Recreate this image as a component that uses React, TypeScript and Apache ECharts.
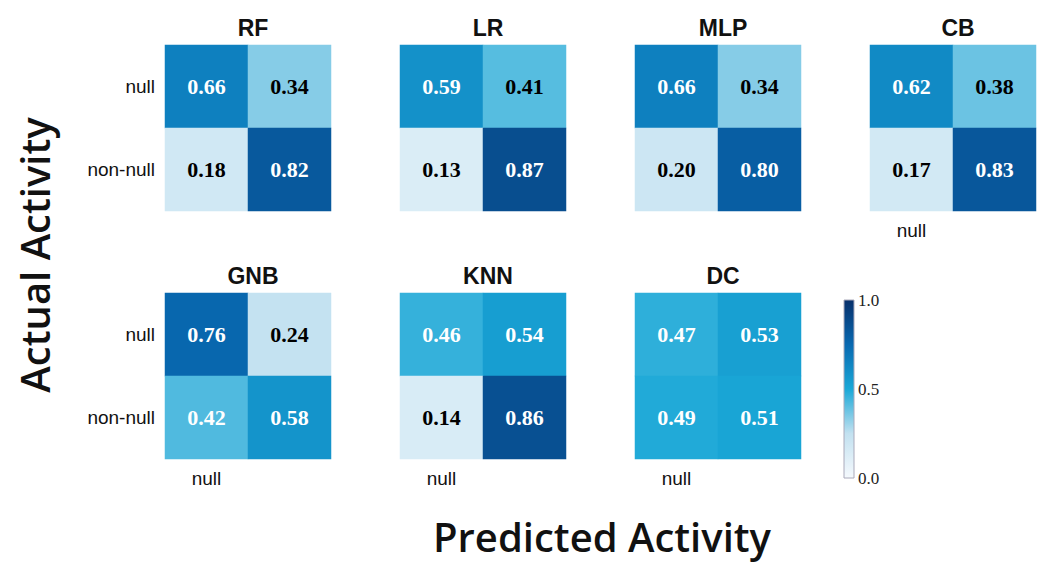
import { useEffect, useRef } from "react";
import * as echarts from "echarts";

// confusion matrices, rows = actual [null, non-null], cols = predicted
const models = ["RF", "LR", "MLP", "CB", "GNB", "KNN", "DC"];
const matrices = [
  [[0.66, 0.34], [0.18, 0.82]],
  [[0.59, 0.41], [0.13, 0.87]],
  [[0.66, 0.34], [0.2, 0.8]],
  [[0.62, 0.38], [0.17, 0.83]],
  [[0.76, 0.24], [0.42, 0.58]],
  [[0.46, 0.54], [0.14, 0.86]],
  [[0.47, 0.53], [0.49, 0.51]],
];
const classes = ["null", "non-null"];
const barTicks = ["0.0", "0.5", "1.0"];

const lefts = [157, 392, 627, 862];
const tops = [37, 285];
const SIZE = 166;
const palette = ["#f5f9fd", "#c2e1f0", "#1aa8d7", "#0869b1", "#08306b"];

export default function App() {
  const ref = useRef<HTMLDivElement>(null);
  useEffect(() => {
    const chart = echarts.init(ref.current!, undefined, { renderer: "svg" });
    const grid: any[] = [], xAxis: any[] = [], yAxis: any[] = [], series: any[] = [], title: any[] = [];
    models.forEach((m, i) => {
      const row = i < 4 ? 0 : 1;
      const col = i < 4 ? i : i - 4;
      const left = lefts[col], top = tops[row];
      grid.push({ left, top, width: SIZE, height: SIZE });
      const showX = row === 1 || i === 3;
      const showY = col === 0;
      xAxis.push({
        type: "category", gridIndex: i, data: classes,
        axisLine: { show: false }, axisTick: { show: false }, splitLine: { show: false },
        axisLabel: { show: showX, color: "#111", fontSize: 19, fontFamily: "Liberation Sans", margin: 10 },
      });
      yAxis.push({
        type: "category", gridIndex: i, data: classes, inverse: true,
        axisLine: { show: false }, axisTick: { show: false }, splitLine: { show: false },
        axisLabel: { show: showY, color: "#111", fontSize: 19, fontFamily: "Liberation Sans", margin: 10 },
      });
      const data: any[] = [];
      matrices[i].forEach((r, a) =>
        r.forEach((v, p) => data.push({ value: [p, a, v], label: { color: v > 0.415 ? "#fff" : "#000" } }))
      );
      series.push({
        type: "heatmap", xAxisIndex: i, yAxisIndex: i, data,
        label: {
          show: true, fontFamily: "Liberation Serif", fontWeight: "bold", fontSize: 22,
          formatter: (d: any) => d.value[2].toFixed(2),
        },
        itemStyle: { borderWidth: 0 },
        emphasis: { disabled: true },
      });
      title.push({
        text: m, left: left + SIZE / 2, top: top - 34, textAlign: "center",
        textStyle: { fontFamily: "Liberation Sans", fontWeight: "bold", fontSize: 23, color: "#111" },
      });
    });
    const cbTop = 292, cbH = 178, cbX = 836;
    chart.setOption({
      animation: false,
      title,
      grid, xAxis, yAxis, series,
      visualMap: { show: false, min: 0, max: 1, seriesIndex: series.map((_, i) => i), inRange: { color: palette } },
      graphic: [
        {
          type: "rect", shape: { x: cbX, y: cbTop, width: 10, height: cbH },
          style: {
            stroke: "#aab", lineWidth: 1,
            fill: new echarts.graphic.LinearGradient(0, 1, 0, 0,
              palette.map((c, k) => ({ offset: k / (palette.length - 1), color: c }))),
          },
        },
        ...barTicks.map((t, k) => ({
          type: "text", x: cbX + 14, y: cbTop + cbH - (k * cbH) / 2,
          style: { text: t, fontFamily: "Liberation Serif", fontSize: 17, fill: "#222", verticalAlign: "middle" },
        })),
        {
          type: "text", x: 26, y: 247, rotation: Math.PI / 2,
          style: { text: "Actual Activity", fontFamily: "Open Sans", fontWeight: 600, fontSize: 40, fill: "#111", align: "center", verticalAlign: "middle" },
        },
        {
          type: "text", x: 594, y: 528,
          style: { text: "Predicted Activity", fontFamily: "Open Sans", fontWeight: 600, fontSize: 40, fill: "#111", align: "center", verticalAlign: "middle" },
        },
      ],
    });
    return () => chart.dispose();
  }, []);
  return <div ref={ref} style={{ width: 1045, height: 556 }} />;
}
